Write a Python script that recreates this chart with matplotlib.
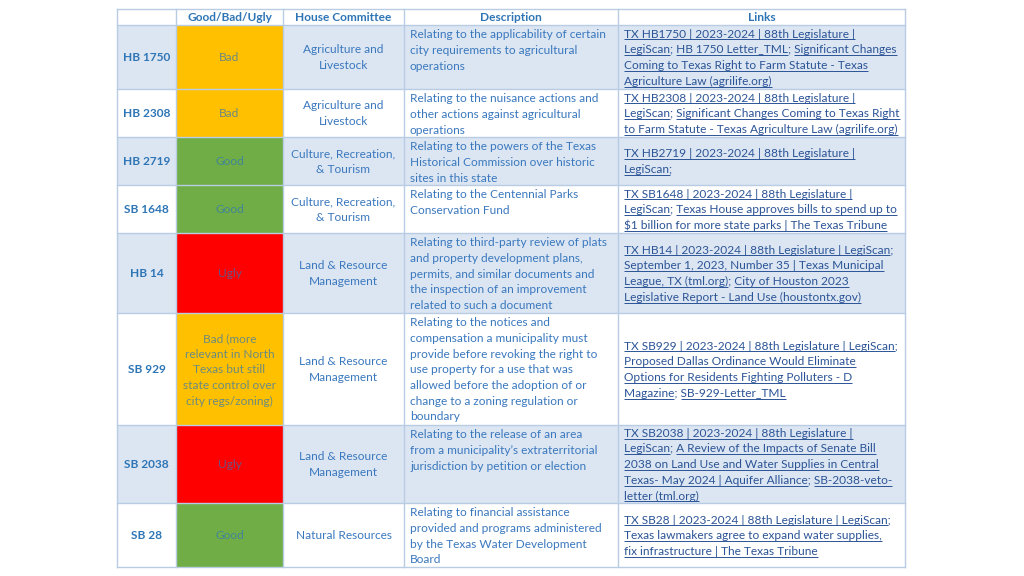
import re
import matplotlib.pyplot as plt
from matplotlib.patches import Rectangle
from matplotlib.font_manager import FontProperties

plt.rcParams['font.family'] = ['Lato', 'DejaVu Sans']

# table content
headers = ["", "Good/Bad/Ugly", "House Committee", "Description", "Links"]
bills = ["HB 1750", "HB 2308", "HB 2719", "SB 1648", "HB 14", "SB 929", "SB 2038", "SB 28"]
ratings = ["Bad", "Bad", "Good", "Good", "Ugly",
           "Bad (more\nrelevant in North\nTexas but still\nstate control over\ncity regs/zoning)",
           "Ugly", "Good"]
rating_kind = ["Bad", "Bad", "Good", "Good", "Ugly", "Bad", "Ugly", "Good"]
committees = ["Agriculture and\nLivestock", "Agriculture and\nLivestock",
              "Culture, Recreation,\n& Tourism", "Culture, Recreation,\n& Tourism",
              "Land & Resource\nManagement", "Land & Resource\nManagement",
              "Land & Resource\nManagement", "Natural Resources"]
descriptions = [
    "Relating to the applicability of certain\ncity requirements to agricultural\noperations",
    "Relating to the nuisance actions and\nother actions against agricultural\noperations",
    "Relating to the powers of the Texas\nHistorical Commission over historic\nsites in this state",
    "Relating to the Centennial Parks\nConservation Fund",
    "Relating to third-party review of plats\nand property development plans,\npermits, and similar documents and\nthe inspection of an improvement\nrelated to such a document",
    "Relating to the notices and\ncompensation a municipality must\nprovide before revoking the right to\nuse property for a use that was\nallowed before the adoption of or\nchange to a zoning regulation or\nboundary",
    "Relating to the release of an area\nfrom a municipality\u2019s extraterritorial\njurisdiction by petition or election",
    "Relating to financial assistance\nprovided and programs administered\nby the Texas Water Development\nBoard",
]
links = [
    "TX HB1750 | 2023-2024 | 88th Legislature |\nLegiScan; HB 1750 Letter_TML; Significant Changes\nComing to Texas Right to Farm Statute - Texas\nAgriculture Law (agrilife.org)",
    "TX HB2308 | 2023-2024 | 88th Legislature |\nLegiScan; Significant Changes Coming to Texas Right\nto Farm Statute - Texas Agriculture Law (agrilife.org)",
    "TX HB2719 | 2023-2024 | 88th Legislature |\nLegiScan;",
    "TX SB1648 | 2023-2024 | 88th Legislature |\nLegiScan; Texas House approves bills to spend up to\n$1 billion for more state parks | The Texas Tribune",
    "TX HB14 | 2023-2024 | 88th Legislature | LegiScan;\nSeptember 1, 2023, Number 35 | Texas Municipal\nLeague, TX (tml.org); City of Houston 2023\nLegislative Report - Land Use (houstontx.gov)",
    "TX SB929 | 2023-2024 | 88th Legislature | LegiScan;\nProposed Dallas Ordinance Would Eliminate\nOptions for Residents Fighting Polluters - D\nMagazine; SB-929-Letter_TML",
    "TX SB2038 | 2023-2024 | 88th Legislature |\nLegiScan; A Review of the Impacts of Senate Bill\n2038 on Land Use and Water Supplies in Central\nTexas- May 2024 | Aquifer Alliance; SB-2038-veto-\nletter (tml.org)",
    "TX SB28 | 2023-2024 | 88th Legislature | LegiScan;\nTexas lawmakers agree to expand water supplies,\nfix infrastructure | The Texas Tribune",
]

# layout (pixel grid)
col_edges = [117, 176, 283, 404, 618, 905]
row_edges = [9, 25, 89, 137, 185, 233, 313, 425, 503, 567]
LINE = 15.7
FS = 8.6

rating_colors = {"Bad": "#FFC000", "Good": "#70AD47", "Ugly": "#FF0000"}
stripe = "#DCE6F2"
grid_col = "#B8CCE4"
head_blue = "#2E75B6"
desc_blue = "#3A78BE"
link_blue = "#2B5497"

fig = plt.figure(figsize=(10.24, 5.76), dpi=100)
ax = fig.add_axes([0, 0, 1, 1])
ax.set_xlim(0, 1024)
ax.set_ylim(576, 0)
ax.axis('off')


def put_lines(x, y0, lines, ha='left', **kw):
    # y0 = centre of first line
    for i, ln in enumerate(lines):
        ax.text(x, y0 + i * LINE + 4.2, ln, ha=ha, va='baseline', fontsize=FS,
                parse_math=False, **kw)


def put_centered(x, yc, text, **kw):
    lines = text.split("\n")
    y0 = yc - (len(lines) - 1) * LINE / 2
    put_lines(x, y0, lines, ha='center', **kw)


fig.canvas.draw()
renderer = fig.canvas.get_renderer()
prop = FontProperties(family=['Lato', 'DejaVu Sans'], size=FS)


def text_w(s):
    # width of a string in pixels (= data units here)
    if not s:
        return 0.0
    w, _, _ = renderer.get_text_width_height_descent(s, prop, ismath=False)
    return w


def put_link_lines(x, y0, lines):
    for i, ln in enumerate(lines):
        yb = y0 + i * LINE + 4.2
        ax.text(x, yb, ln, ha='left', va='baseline', fontsize=FS,
                color=link_blue, parse_math=False)
        pos = 0
        for tok in re.split(r'(;\s?)', ln):
            if tok and not tok.startswith(';'):
                x0 = x + text_w(ln[:pos])
                x1 = x + text_w(ln[:pos + len(tok)])
                ax.plot([x0, x1], [yb + 1.8, yb + 1.8], color=link_blue, lw=0.7,
                        solid_capstyle='butt')
            pos += len(tok)


# backgrounds
for r in range(len(bills)):
    top, bot = row_edges[r + 1], row_edges[r + 2]
    bg = stripe if r % 2 == 0 else "white"
    ax.add_patch(Rectangle((col_edges[0], top), col_edges[-1] - col_edges[0], bot - top,
                           facecolor=bg, edgecolor='none'))
    ax.add_patch(Rectangle((col_edges[1], top), col_edges[2] - col_edges[1], bot - top,
                           facecolor=rating_colors[rating_kind[r]], edgecolor='none', zorder=2))

# grid lines
for y in row_edges:
    ax.plot([col_edges[0], col_edges[-1]], [y, y], color=grid_col, lw=1.0, zorder=3)
for x in col_edges:
    ax.plot([x, x], [row_edges[0], row_edges[-1]], color=grid_col, lw=1.0, zorder=3)

# header
hy = (row_edges[0] + row_edges[1]) / 2
for c, h in enumerate(headers):
    if h:
        put_centered((col_edges[c] + col_edges[c + 1]) / 2, hy, h,
                     color=head_blue, fontweight='bold')

# rows
for r in range(len(bills)):
    top, bot = row_edges[r + 1], row_edges[r + 2]
    yc = (top + bot) / 2
    put_centered((col_edges[0] + col_edges[1]) / 2, yc, bills[r],
                 color=head_blue, fontweight='bold')
    put_centered((col_edges[1] + col_edges[2]) / 2, yc, ratings[r],
                 color=head_blue, alpha=0.7, zorder=4)
    put_centered((col_edges[2] + col_edges[3]) / 2, yc, committees[r], color=desc_blue)
    put_lines(col_edges[3] + 6, top + 9, descriptions[r].split("\n"), color=desc_blue)
    lk = links[r].split("\n")
    put_link_lines(col_edges[4] + 6, yc - (len(lk) - 1) * LINE / 2, lk)

fig.savefig("out.png", dpi=100)
